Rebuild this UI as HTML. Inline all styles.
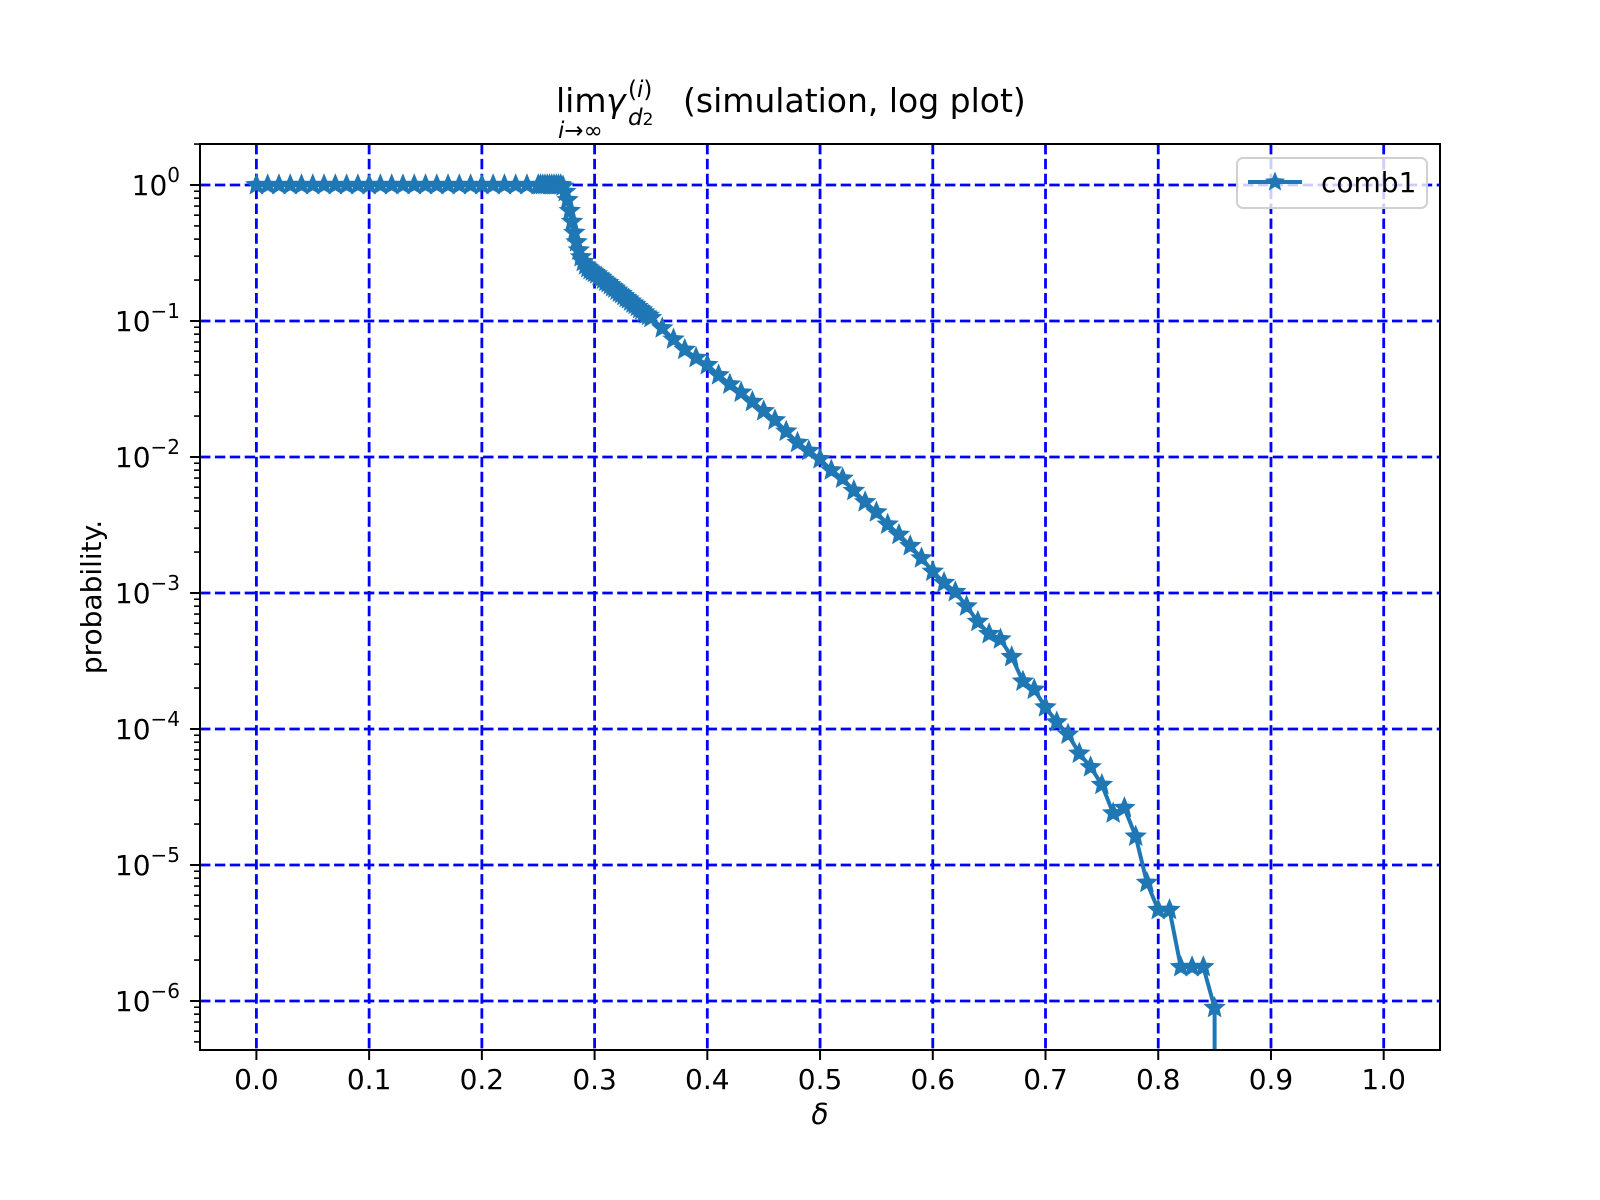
<!DOCTYPE html>
<html><head><meta charset="utf-8"><style>
html,body{margin:0;padding:0;background:#fff;}
svg{display:block;font-family:"DejaVu Sans","Liberation Sans",sans-serif;}
</style></head><body>
<svg id="chart" width="1600" height="1200" viewBox="0 0 1600 1200" xmlns="http://www.w3.org/2000/svg">
<rect x="0" y="0" width="1600" height="1200" fill="#fff"/>
<g fill="#000">
<text x="556" y="112" font-size="33">lim</text>
<text x="558" y="138" font-size="23" font-style="italic">i→∞</text>
<text x="606" y="112" font-size="33" font-style="italic">γ</text>
<text x="628" y="97" font-size="23">(<tspan font-style="italic">i</tspan>)</text>
<text x="628" y="125" font-size="23"><tspan font-style="italic">d</tspan><tspan font-size="17">2</tspan></text>
<text x="683" y="112" font-size="33">(simulation, log plot)</text>
</g>
<g id="grid"></g>
<g id="series"></g>
<rect x="200" y="144" width="1240" height="906" fill="none" stroke="#000" stroke-width="2"/>
<g id="xticks"></g>
<g id="yticks"></g>
<text x="820" y="1124" font-size="28" font-style="italic" text-anchor="middle">δ</text>
<text transform="translate(101,597) rotate(-90)" font-size="28" text-anchor="middle">probability.</text>
<g>
<rect x="1237" y="158" width="190" height="50" rx="6" fill="#fff" fill-opacity="0.8" stroke="#d0d0d0" stroke-width="2"/>
<line x1="1248" y1="182" x2="1302" y2="182" stroke="#1f77b4" stroke-width="4"/>
<path id="legend-star" fill="#1f77b4"/>
<text x="1321" y="192" font-size="28">comb1</text>
</g>
</svg>
<script>
const deltas = [0,0.01,0.02,0.03,0.04,0.05,0.06,0.07,0.08,0.09,0.10,0.11,0.12,0.13,0.14,0.15,0.16,0.17,0.18,0.19,0.20,0.21,0.22,0.23,0.24,
0.250,0.252,0.254,0.256,0.258,0.260,0.262,0.264,0.266,0.268,0.270,0.272,0.274,0.276,0.278,0.280,0.282,0.284,0.286,0.288,0.290,0.292,0.294,0.296,0.298,0.300,0.302,0.304,0.306,0.308,0.310,0.312,0.314,0.316,0.318,0.320,0.322,0.324,0.326,0.328,0.330,0.332,0.334,0.336,0.338,0.340,0.342,0.344,0.346,0.348,
0.35,0.36,0.37,0.38,0.39,0.40,0.41,0.42,0.43,0.44,0.45,0.46,0.47,0.48,0.49,0.50,0.51,0.52,0.53,0.54,0.55,0.56,0.57,0.58,0.59,0.60,0.61,0.62,0.63,0.64,0.65,0.66,0.67,0.68,0.69,0.70,0.71,0.72,0.73,0.74,0.75,0.76,0.77,0.78,0.79,0.80,0.81,0.82,0.83,0.84,0.85];
const log10Prob = [0,0,0,0,0,0,0,0,0,0,0,0,0,0,0,0,0,0,0,0,0,0,0,0,0,
0,0,0,0,0,0,0,0,0,0,0,-0.01,-0.05,-0.11,-0.19,-0.27,-0.35,-0.42,-0.48,-0.53,-0.565,-0.59,-0.61,-0.625,-0.635,-0.645,-0.655,-0.67,-0.68,-0.695,-0.71,-0.72,-0.735,-0.75,-0.76,-0.775,-0.79,-0.80,-0.815,-0.83,-0.84,-0.855,-0.87,-0.88,-0.895,-0.91,-0.92,-0.935,-0.95,-0.96,
-0.977,-1.053,-1.135,-1.211,-1.271,-1.323,-1.398,-1.466,-1.526,-1.594,-1.662,-1.729,-1.812,-1.895,-1.955,-2.015,-2.098,-2.158,-2.248,-2.331,-2.406,-2.496,-2.571,-2.654,-2.744,-2.842,-2.925,-2.992,-3.098,-3.211,-3.301,-3.34,-3.47,-3.65,-3.71,-3.84,-3.95,-4.04,-4.18,-4.28,-4.41,-4.62,-4.58,-4.79,-5.13,-5.33,-5.33,-5.75,-5.75,-5.75,-6.05];
const xTickValues = [0,0.1,0.2,0.3,0.4,0.5,0.6,0.7,0.8,0.9,1.0];
const xTickLabels = ["0.0","0.1","0.2","0.3","0.4","0.5","0.6","0.7","0.8","0.9","1.0"];
const yTickExponents = [0,-1,-2,-3,-4,-5,-6];

const NS='http://www.w3.org/2000/svg';
const AX={l:200,r:1440,t:144,b:1050};
function xScale(d){return 256.4+d*1127.3;}
function yScale(lg){return 185-lg*136;}
function mk(tag,attrs,parent){const e=document.createElementNS(NS,tag);for(const k in attrs)e.setAttribute(k,attrs[k]);parent.appendChild(e);return e;}
function starPath(cx,cy,R){const r=R*0.45;let p='';for(let i=0;i<10;i++){const a=-Math.PI/2+i*Math.PI/5;const rr=i%2?r:R;p+=(i?'L':'M')+(cx+rr*Math.cos(a)).toFixed(2)+','+(cy+rr*Math.sin(a)).toFixed(2);}return p+'Z';}

const grid=document.getElementById('grid');
xTickValues.forEach(v=>{const l=mk('line',{x1:xScale(v),x2:xScale(v),y1:AX.t,y2:AX.b,stroke:'#0000ff','stroke-width':2.8,'stroke-dasharray':'10.4,4.5'},grid);

});
yTickExponents.forEach(v=>{const l=mk('line',{x1:AX.l,x2:AX.r,y1:yScale(v),y2:yScale(v),stroke:'#0000ff','stroke-width':2.8,'stroke-dasharray':'10.4,4.5'},grid);

});

const xt=document.getElementById('xticks');
xTickValues.forEach((v,i)=>{const x=xScale(v);
const t=mk('line',{x1:x,x2:x,y1:AX.b,y2:AX.b+10,stroke:'#000','stroke-width':2},xt);


const tx=mk('text',{x:x,y:1089,'font-size':28,'text-anchor':'middle'},xt);tx.textContent=xTickLabels[i];

});

const yt=document.getElementById('yticks');
const lgTop=(185-AX.t)/136, lgBot=-(AX.b-185)/136;
for(let e=1;e>=-7;e--){for(let m=2;m<=9;m++){const lg=e+Math.log10(m);if(lg>lgTop||lg<lgBot)continue;
const t=mk('line',{x1:AX.l-6,x2:AX.l,y1:yScale(lg),y2:yScale(lg),stroke:'#000','stroke-width':1.6},yt);

}}
yTickExponents.forEach(v=>{const y=yScale(v);
const t=mk('line',{x1:AX.l-10,x2:AX.l,y1:y,y2:y,stroke:'#000','stroke-width':2},yt);


const g=mk('text',{x:180,y:y+10,'font-size':28,'text-anchor':'end'},yt);


const a=mk('tspan',{},g);a.textContent='10';
const b=mk('tspan',{'font-size':20,dy:-13},g);b.textContent=(v===0?'0':'\u2212'+(-v));});

const s=document.getElementById('series');
let d='';deltas.forEach((v,i)=>{d+=(i?'L':'M')+xScale(v).toFixed(2)+','+yScale(log10Prob[i]).toFixed(2);});
const lastX=xScale(deltas[deltas.length-1]);
d+='L'+lastX.toFixed(2)+','+(AX.b+5);
const clip=mk('clipPath',{id:'axclip'},s);mk('rect',{x:AX.l,y:AX.t,width:AX.r-AX.l,height:AX.b-AX.t},clip);
const line=mk('path',{d:d,fill:'none',stroke:'#1f77b4','stroke-width':4,'stroke-linejoin':'round','clip-path':'url(#axclip)'},s);


deltas.forEach((v,i)=>{const p=mk('path',{d:starPath(xScale(v),yScale(log10Prob[i]),10.5),fill:'#1f77b4',stroke:'#1f77b4','stroke-width':1},s);

});
document.getElementById('legend-star').setAttribute('d',starPath(1275,182,10.5));
</script>
</body></html>
